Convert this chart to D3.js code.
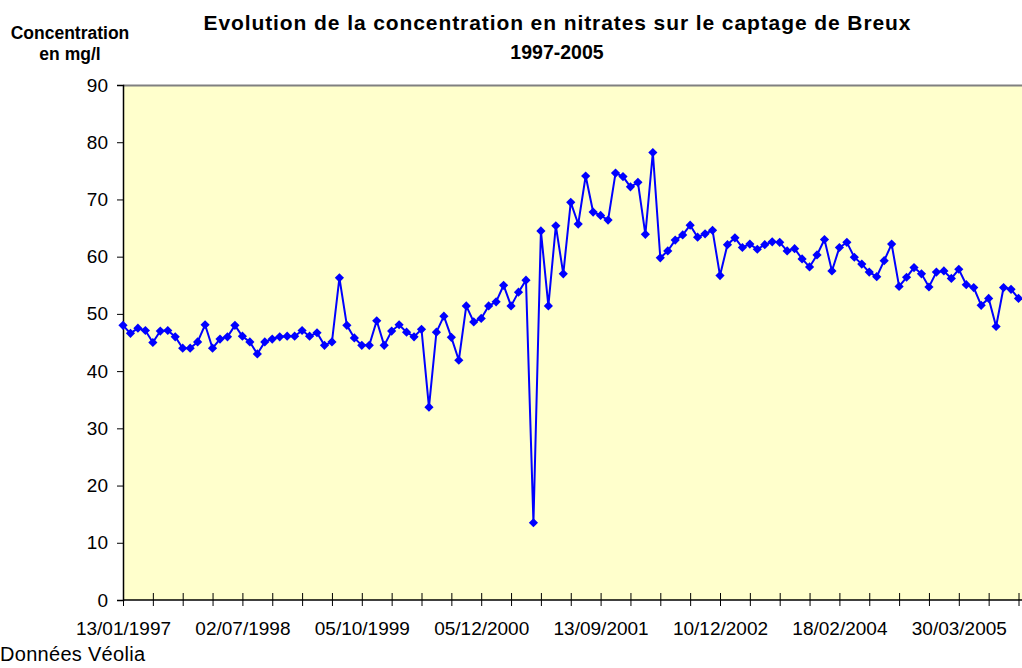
<!DOCTYPE html>
<html><head><meta charset="utf-8">
<script src="https://cdn.jsdelivr.net/npm/d3@7/dist/d3.min.js"></script>
<style>body{margin:0;background:#fff;}svg{display:block;font-family:Arial,"Liberation Sans",sans-serif;}</style>
</head><body>
<svg id="c" width="1022" height="668"></svg>
<script>
// Nitrate concentration (mg/l), one sample per category (121 samples, 1997-2005)
const values = [
48.0,46.6,47.5,47.1,45.0,47.0,47.1,46.0,44.0,44.0,45.1,48.1,44.0,45.6,46.0,48.0,
46.1,45.1,43.0,45.1,45.6,46.0,46.1,46.1,47.1,46.1,46.7,44.5,45.1,56.3,48.0,45.8,
44.5,44.5,48.8,44.5,47.0,48.1,46.8,46.0,47.3,33.7,46.8,49.6,45.9,41.9,51.4,48.6,
49.2,51.4,52.1,55.0,51.4,53.8,55.9,13.5,64.5,51.4,65.4,57.0,69.5,65.7,74.1,67.8,
67.2,66.4,74.6,74.0,72.2,73.0,63.9,78.2,59.8,61.0,62.9,63.8,65.5,63.4,64.0,64.6,
56.7,62.1,63.3,61.6,62.2,61.3,62.1,62.6,62.5,61.0,61.4,59.6,58.2,60.3,63.0,57.5,
61.6,62.5,59.9,58.7,57.3,56.5,59.3,62.2,54.8,56.4,58.1,57.0,54.7,57.3,57.5,56.2,
57.8,55.1,54.6,51.5,52.7,47.8,54.6,54.3,52.7
];
// Date labels shown on the category axis (every 16th sample)
const dateLabels = ["13/01/1997","02/07/1998","05/10/1999","05/12/2000","13/09/2001","10/12/2002","18/02/2004","30/03/2005"];
const yTicks = [0,10,20,30,40,50,60,70,80,90];
const titleLines = ["Evolution de la concentration en nitrates sur le captage de Breux","1997-2005"];
const yTitleLines = ["Concentration","en mg/l"];
const source = "Données Véolia";

const svg = d3.select("#c");
const L = 123, R = 1018.5, T = 85, B = 600;
const categories = d3.range(values.length);
const x = d3.scaleLinear().domain([0, values.length - 1]).range([L, R]);
const y = d3.scaleLinear().domain([0, 90]).range([B, T]);

// plot area
svg.append("rect").attr("x", L).attr("y", T).attr("width", 1030 - L).attr("height", B - T)
  .attr("fill", "#FFFFCC");
svg.append("line").attr("x1", L).attr("x2", 1030).attr("y1", T + 0.5).attr("y2", T + 0.5)
  .attr("stroke", "#808080").attr("stroke-width", 2);

// y axis
const yAxis = d3.axisLeft(y).tickValues(yTicks).tickSize(6).tickPadding(9);
const gy = svg.append("g").attr("transform", `translate(${L},0)`).call(yAxis);
gy.select(".domain").attr("stroke", "#000").attr("stroke-width", 1.5);
gy.selectAll(".tick line").attr("stroke", "#000");
gy.selectAll(".tick text").attr("font-size", 19).attr("fill", "#000")
  .attr("font-family", "Arial, 'Liberation Sans', sans-serif");

// x axis (category axis, tick every 4 categories, label every 16)
const xAxis = d3.axisBottom(x).tickValues(categories.filter(i => i % 4 === 0))
  .tickSize(6).tickPadding(0)
  .tickFormat(i => i % 16 === 0 ? dateLabels[i / 16] : "");
const gx = svg.append("g").attr("transform", `translate(0,${B})`).call(xAxis);
gx.select(".domain").attr("stroke", "#000").attr("stroke-width", 1.5).attr("d", `M${L},0H1030`);
gx.selectAll(".tick line").attr("stroke", "#000").attr("y1", -7).attr("y2", 6);
gx.selectAll(".tick text").attr("font-size", 19).attr("fill", "#000").attr("y", 35).attr("dy", 0)
  .attr("font-family", "Arial, 'Liberation Sans', sans-serif");

// series line
const line = d3.line().x((d, i) => x(i)).y(d => y(d));
svg.append("path").datum(values).attr("d", line).attr("fill", "none")
  .attr("stroke", "#0000FF").attr("stroke-width", 2);
// diamond markers
svg.append("g").selectAll("path").data(values).join("path")
  .attr("transform", (d, i) => `translate(${x(i)},${y(d)})`)
  .attr("d", "M0,-4.6L4.6,0L0,4.6L-4.6,0Z").attr("fill", "#0000FF");

// titles
svg.append("g").selectAll("text").data(titleLines).join("text")
  .attr("x", 557).attr("y", (d, i) => 30 + i * 29).attr("text-anchor", "middle")
  .attr("font-weight", "bold").attr("font-size", (d, i) => i === 0 ? 21 : 19.5)
  .attr("textLength", (d, i) => i === 0 ? 707 : null)
  .attr("lengthAdjust", "spacing").text(d => d);
svg.append("g").selectAll("text").data(yTitleLines).join("text")
  .attr("x", 70).attr("y", (d, i) => 39 + i * 21).attr("text-anchor", "middle")
  .attr("font-weight", "bold").attr("font-size", 17.5).text(d => d);
svg.append("text").attr("x", 0).attr("y", 661).attr("font-size", 20)
  .attr("textLength", 145).attr("lengthAdjust", "spacing").text(source);
</script>
</body></html>
